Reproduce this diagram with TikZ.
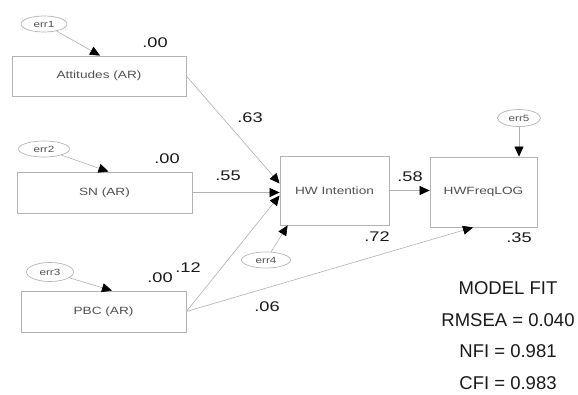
\documentclass[tikz,border=0pt]{standalone}
\usepackage{fontspec}
\setmainfont{Liberation Sans}
\newfontfamily\amos[FakeStretch=1.3]{Liberation Sans}
\usetikzlibrary{arrows.meta,shapes.geometric}
\definecolor{boxline}{HTML}{B4B4B4}
\definecolor{pathline}{HTML}{B0B0B0}
\definecolor{labeltext}{HTML}{505050}
\tikzset{
  obs/.style={draw=boxline, line width=0.8pt, rectangle, inner sep=0pt,
    font=\amos\fontsize{10.5}{12}\selectfont, text=labeltext},
  errvar/.style={draw=boxline, line width=0.7pt, ellipse, inner sep=0pt,
    font=\amos\fontsize{9}{10}\selectfont, text=labeltext},
  sempath/.style={draw=pathline, line width=0.6pt,
    -{Triangle[length=10pt,width=9pt,color=black]}},
  est/.style={font=\amos\fontsize{14}{16}\selectfont, text=black!90, inner sep=0pt},
  fit/.style={font=\fontsize{18.5}{20}\selectfont, text=black!90, inner sep=0pt}
}
\begin{document}
\begin{tikzpicture}[x=1pt,y=-1pt]
\useasboundingbox (0,0) rectangle (578,395);

% observed variables
\node[obs, minimum width=174pt, minimum height=40pt] (att) at (99,76) {Attitudes (AR)};
\node[obs, minimum width=175pt, minimum height=41pt] (sn)  at (104.5,192.5) {SN (AR)};
\node[obs, minimum width=165pt, minimum height=41pt] (pbc) at (103.5,311.5) {PBC (AR)};
\node[obs, minimum width=109pt, minimum height=69pt] (hwi) at (334.5,190.5) {HW Intention};
\node[obs, minimum width=107pt, minimum height=70pt] (hwf) at (483.5,192) {HWFreqLOG};

% error terms
\node[errvar, minimum width=46pt, minimum height=16pt] (e1) at (44,24)  {err1};
\node[errvar, minimum width=51pt, minimum height=16pt] (e2) at (44,149) {err2};
\node[errvar, minimum width=47pt, minimum height=19pt] (e3) at (50,272) {err3};
\node[errvar, minimum width=49pt, minimum height=16pt] (e4) at (266,260) {err4};
\node[errvar, minimum width=43pt, minimum height=17pt] (e5) at (519,118) {err5};

% error paths
\draw[sempath] (e1) -- ([xshift=1pt]att.north);
\draw[sempath] (e2) -- ([xshift=4pt]sn.north);
\draw[sempath] (e3) -- ([xshift=8.5pt]pbc.north);
\draw[sempath] (e4) -- ([xshift=8pt]hwi.south west);
\draw[sempath] (e5) -- ([xshift=35.5pt]hwf.north);

% structural paths
\draw[sempath] (att.east) -- ([yshift=7pt]hwi.west);
\draw[sempath] (sn.east) -- (sn.east -| hwi.west);
\draw[sempath] (pbc.east) -- ([yshift=-5pt]hwi.west);
\draw[sempath] (hwi.east) -- (hwi.east -| hwf.west);
\draw[sempath] (pbc.east) -- ([xshift=-10.5pt]hwf.south);

% estimates
\node[est] (r1)  at (155,43)  {.00};
\node[est] (b1)  at (250,118) {.63};
\node[est] (r2)  at (167,159) {.00};
\node[est] (b2)  at (228,176) {.55};
\node[est] (r3)  at (160,278) {.00};
\node[est] (b3)  at (188,268) {.12};
\node[est] (b4)  at (267,307) {.06};
\node[est] (b5)  at (410,177) {.58};
\node[est] (r4)  at (377,237) {.72};
\node[est] (r5)  at (519,238) {.35};

% fit indices
\node[fit] (f0) at (508,288) {MODEL FIT};
\node[fit] (f1) at (508,320) {RMSEA = 0.040};
\node[fit] (f2) at (508,351) {NFI = 0.981};
\node[fit] (f3) at (508,383) {CFI = 0.983};
\end{tikzpicture}
\end{document}
